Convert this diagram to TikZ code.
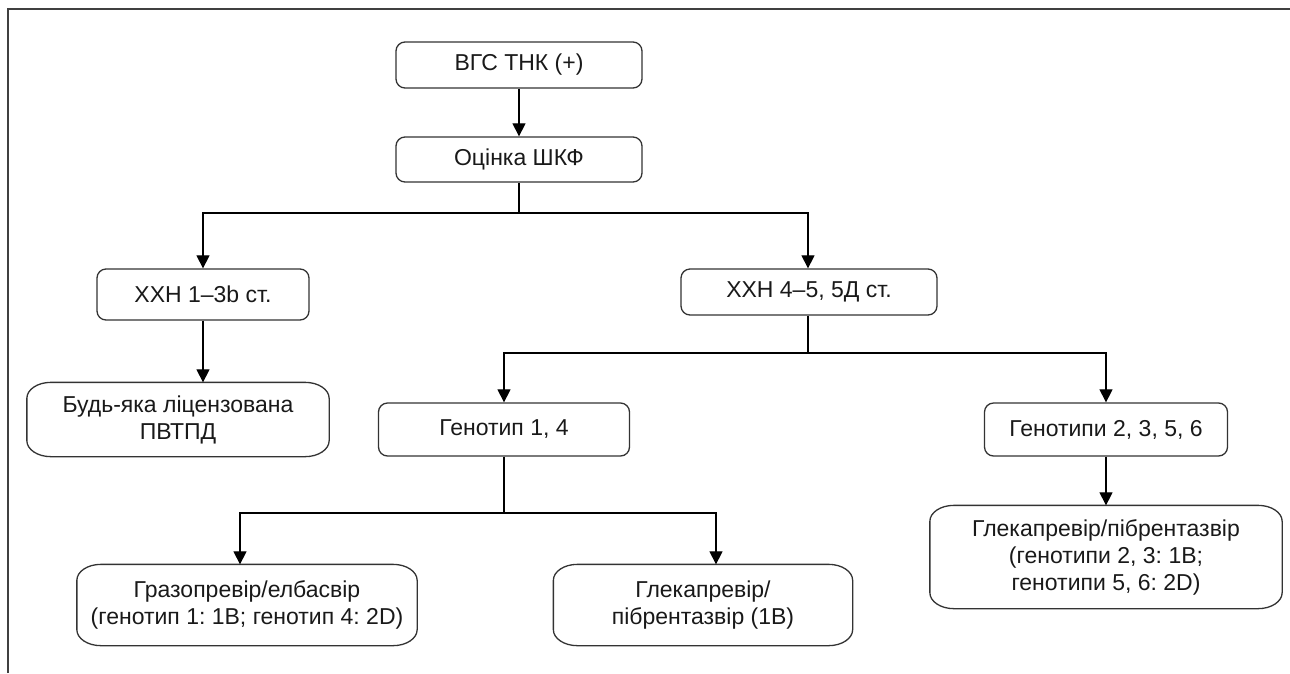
\documentclass[tikz,border=0pt]{standalone}
\usepackage{fontspec}
\setmainfont{Liberation Sans}
\usetikzlibrary{arrows.meta}
\frenchspacing

\tikzset{
  stage/.style={draw=black!80, line width=1.3pt, rounded corners=9pt, inner sep=0pt,
    text=black!90, font=\fontsize{23}{27}\selectfont, align=center},
  endbox/.style={stage, draw=none},
  flow/.style={black, line width=1.2pt, -{Triangle[length=13pt, width=13pt]}},
  link/.style={black, line width=1.2pt}
}

\begin{document}
\begin{tikzpicture}[x=1pt, y=1pt]
  \useasboundingbox (0,0) rectangle (1290,-673);
  % draw frame lines
  \draw[black!75, line width=2.2pt] (8,-673) -- (8,-9) -- (1290,-9);
  % draw rounded step boxes
  \node[stage, minimum width=246pt, minimum height=46pt] (box_vgs) at (519,-65) {ВГС ТНК (+)};
  \node[stage, minimum width=246pt, minimum height=45pt] (box_score) at (519,-159.5) {Оцінка ШКФ};
  \node[stage, minimum width=212pt, minimum height=51pt] (box_ckd13) at (203,-294.5) {ХХН 1–3b ст.};
  \node[stage, minimum width=256pt, minimum height=46pt] (box_ckd45) at (809,-292) {ХХН 4–5, 5Д ст.};
  \node[stage, minimum width=251pt, minimum height=53pt] (box_gt14) at (504,-429.5) {Генотип 1, 4};
  \node[stage, minimum width=243pt, minimum height=53pt] (box_gt2356) at (1106,-429.5) {Генотипи 2, 3, 5, 6};
  % draw end boxes with wide corners
  \node[endbox, minimum width=301pt, minimum height=73pt] (end_any) at (178,-419.5) {Будь-яка ліцензована\\ПВТПД};
  \node[endbox, minimum width=339pt, minimum height=80pt] (end_gzr) at (247,-605) {Гразопревір/елбасвір\\(генотип 1: 1B; генотип 4: 2D)};
  \node[endbox, minimum width=298pt, minimum height=80pt] (end_gp14) at (703,-605) {Глекапревір/\\пібрентазвір (1B)};
  \node[endbox, minimum width=351pt, minimum height=102pt] (end_gp2356) at (1106,-557) {Глекапревір/пібрентазвір\\(генотипи 2, 3: 1B;\\генотипи 5, 6: 2D)};
  \foreach \n in {end_any, end_gzr, end_gp14, end_gp2356}
    \draw[black!80, line width=1.3pt]
      ([yshift=-16pt]\n.north west) arc[start angle=180, end angle=90, x radius=24pt, y radius=16pt]
      -- ([xshift=-24pt]\n.north east) arc[start angle=90, end angle=0, x radius=24pt, y radius=16pt]
      -- ([yshift=16pt]\n.south east) arc[start angle=0, end angle=-90, x radius=24pt, y radius=16pt]
      -- ([xshift=24pt]\n.south west) arc[start angle=270, end angle=180, x radius=24pt, y radius=16pt]
      -- cycle;
  % draw connectors
  \coordinate (split_score) at (519,-213);
  \coordinate (split_ckd45) at (808,-353);
  \coordinate (split_gt14) at (504,-513);
  \draw[flow] (box_vgs) -- (box_score);
  \draw[link] (box_score) -- (split_score);
  \draw[flow] (split_score) -| (box_ckd13.north);
  \draw[flow] (split_score) -| ([xshift=-1pt]box_ckd45.north);
  \draw[flow] (box_ckd13) -- (box_ckd13.south |- end_any.north);
  \draw[link] ([xshift=-1pt]box_ckd45.south) -- (split_ckd45);
  \draw[flow] (split_ckd45) -| (box_gt14.north);
  \draw[flow] (split_ckd45) -| (box_gt2356.north);
  \draw[link] (box_gt14) -- (split_gt14);
  \draw[flow] (split_gt14) -| ([xshift=-7pt]end_gzr.north);
  \draw[flow] (split_gt14) -| ([xshift=13pt]end_gp14.north);
  \draw[flow] (box_gt2356) -- (end_gp2356);
\end{tikzpicture}
\end{document}
